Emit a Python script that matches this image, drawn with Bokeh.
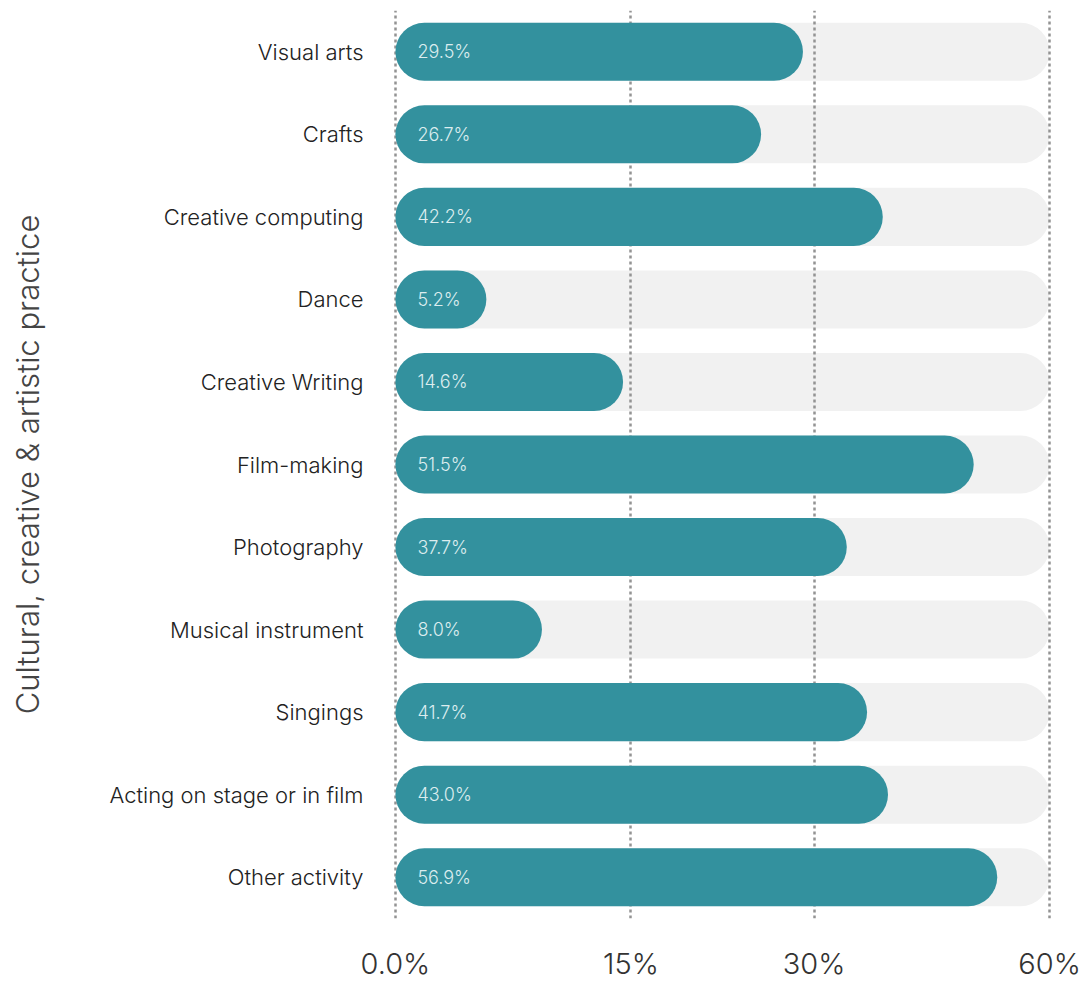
from bokeh.plotting import figure
from bokeh.models import ColumnDataSource, FactorRange, Range1d, FixedTicker
from bokeh.core.properties import value
from bokeh.embed import file_html
from bokeh.resources import INLINE

# Categories (top to bottom)
categories = ["Visual arts", "Crafts", "Creative computing", "Dance", "Creative Writing",
              "Film-making", "Photography", "Musical instrument", "Singings",
              "Acting on stage or in film", "Other activity"]
# Printed percentages inside the bars
percent_values = [29.5, 26.7, 42.2, 5.2, 14.6, 51.5, 37.7, 8.0, 41.7, 43.0, 56.9]
# Bar extent, as a share of the full track (0 = left, 1 = "60%" line)
bar_extent = [0.623, 0.559, 0.745, 0.139, 0.348, 0.884, 0.690, 0.224, 0.721, 0.753, 0.920]
track_end = [1.0] * len(categories)
# Axis ticks: position on the track and label
tick_positions = [0.0, 0.36, 0.64, 1.0]
tick_labels = ["0.0%", "15%", "30%", "60%"]

FONT = "Inter Light, Inter"

src = ColumnDataSource(dict(
    cat=categories,
    ext=bar_extent,
    track=track_end,
    label=[f"{v:.1f}%" for v in percent_values],
))

p = figure(width=1088, height=983,
           y_range=FactorRange(factors=categories[::-1]),
           x_range=Range1d(-0.006, 1.006),
           output_backend="svg", toolbar_location=None,
           min_border_left=391, min_border_right=35,
           min_border_top=10, min_border_bottom=63)

p.outline_line_color = None
p.background_fill_color = "white"
p.border_fill_color = "white"

bar_h = 0.703
# grey track (bottom layer)
p.hbar(y="cat", left=0, right="track", height=bar_h, source=src,
       fill_color="#f1f1f1", line_color=None, border_radius=29, level="underlay")
# teal bars and their labels (top layer)
p.hbar(y="cat", left=0, right="ext", height=bar_h, source=src,
       fill_color="#33919e", line_color=None, border_radius=29, level="annotation")
p.text(x=0, y="cat", text="label", source=src, x_offset=22,
       text_align="left", text_baseline="middle", level="annotation",
       text_font=value(FONT), text_font_size="18px", text_color="#dcedef")

# grid (between the grey track and the teal bars)
p.ygrid.grid_line_color = None
p.xgrid.ticker = FixedTicker(ticks=tick_positions)
p.xgrid.grid_line_color = "#939393"
p.xgrid.grid_line_dash = "3 3"
p.xgrid.grid_line_width = 2.5
p.xgrid.level = "glyph"

# x axis
xa = p.xaxis[0]
xa.ticker = FixedTicker(ticks=tick_positions)
xa.major_label_overrides = {t: l for t, l in zip(tick_positions, tick_labels)}
xa.axis_line_color = None
xa.major_tick_line_color = None
xa.minor_tick_line_color = None
xa.major_tick_out = 0
xa.major_label_standoff = 27
xa.major_label_text_font = FONT
xa.major_label_text_font_size = "29px"
xa.major_label_text_color = "#333333"

# y axis
ya = p.yaxis[0]
ya.axis_line_color = None
ya.major_tick_line_color = None
ya.minor_tick_line_color = None
ya.major_tick_out = 0
ya.major_label_standoff = 28
ya.major_label_text_font = FONT
ya.major_label_text_font_size = "22px"
ya.major_label_text_color = "#222222"
ya.axis_label = "Cultural, creative & artistic practice"
ya.axis_label_text_font = FONT
ya.axis_label_text_font_style = "normal"
ya.axis_label_text_font_size = "31px"
ya.axis_label_text_color = "#444444"
ya.axis_label_standoff = 60

open("out.html", "w").write(file_html(p, INLINE))
